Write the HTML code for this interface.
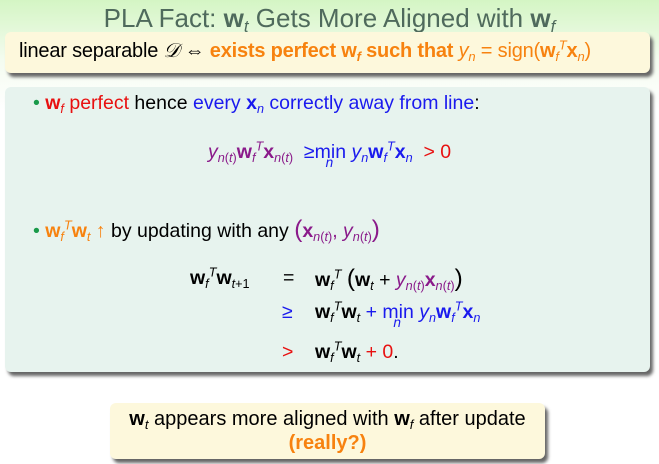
<!DOCTYPE html>
<html><head><meta charset="utf-8"><style>
body{margin:0;width:659px;height:464px;overflow:hidden;background:linear-gradient(#d4f5c4 0px,#f4fcf0 60px,#fff 110px);font-family:"Liberation Sans",sans-serif;position:relative}
.a{position:absolute;white-space:nowrap}
b{font-weight:bold}
i{font-style:italic}
sub,sup{font-size:65%;line-height:0}
sub{vertical-align:-0.3em}
.o{color:#f7820f}.p{color:#8a1a8a}.bl{color:#1a1aee}.r{color:#e81010}
.box{position:absolute;border-radius:6px;box-shadow:3px 4px 3px #666}
.mn{position:relative;display:inline-block}
.mn i.n{position:absolute;left:35%;top:1.05em;font-size:70%}
.big{font-size:125%;font-weight:normal}
</style></head><body>
<div class="a" style="left:0;width:659px;top:3px;text-align:center;font-size:26px;color:#4f6a5c">PLA Fact: <b>w</b><sub><i>t</i></sub> Gets More Aligned with <b>w</b><sub><i>f</i></sub></div>
<div class="box" style="left:5px;top:32px;width:645px;height:41px;background:#fdf8dc"></div>
<div class="a" style="left:19px;top:40px;font-size:20px;letter-spacing:-0.2px">linear separable <i>𝒟</i> ⇔ <b class="o">exists perfect w<sub><i>f</i></sub> such that</b> <span class="o"><i>y<sub>n</sub></i> = sign(<b>w</b><sub><i>f</i></sub><sup><i>T</i></sup><b>x</b><sub><i>n</i></sub>)</span></div>
<div class="box" style="left:5px;top:87px;width:645px;height:285px;background:#e7f3ee"></div>
<div class="a" style="left:33px;top:92px;font-size:19.5px"><span style="color:#1a9a4a">•</span> <span class="r"><b>w</b><sub><i>f</i></sub> perfect</span> hence <span class="bl">every <b>x</b><sub><i>n</i></sub> correctly away from line</span>:</div>
<div class="a p" style="left:208px;top:141px;font-size:19.5px"><i>y</i><sub><i>n</i>(<i>t</i>)</sub><b>w</b><sub><i>f</i></sub><sup><i>T</i></sup><b>x</b><sub><i>n</i>(<i>t</i>)</sub> &nbsp;<span class="bl">≥<span class="mn">min<i class="n">n</i></span> <i>y<sub>n</sub></i><b>w</b><sub><i>f</i></sub><sup><i>T</i></sup><b>x</b><sub><i>n</i></sub></span> &nbsp;<span class="r">&gt; 0</span></div>
<div class="a" style="left:33px;top:216px;font-size:19.5px"><span style="color:#1a9a4a">•</span> <span class="o"><b>w</b><sub><i>f</i></sub><sup><i>T</i></sup><b>w</b><sub><i>t</i></sub> ↑</span> by updating with any <span class="p"><span class="big">(</span><b>x</b><sub><i>n</i>(<i>t</i>)</sub>, <i>y</i><sub><i>n</i>(<i>t</i>)</sub><span class="big">)</span></span></div>
<div class="a" style="left:190px;top:267px;font-size:19.5px"><b>w</b><sub><i>f</i></sub><sup><i>T</i></sup><b>w</b><sub><i>t</i>+1</sub></div>
<div class="a" style="left:283px;top:267px;font-size:19.5px">=</div>
<div class="a" style="left:315px;top:265px;font-size:19.5px"><b>w</b><sub><i>f</i></sub><sup><i>T</i></sup> <span class="big">(</span><b>w</b><sub><i>t</i></sub> + <span class="p"><i>y</i><sub><i>n</i>(<i>t</i>)</sub><b>x</b><sub><i>n</i>(<i>t</i>)</sub></span><span class="big">)</span></div>
<div class="a bl" style="left:282px;top:301px;font-size:19.5px">≥</div>
<div class="a" style="left:315px;top:301px;font-size:19.5px"><b>w</b><sub><i>f</i></sub><sup><i>T</i></sup><b>w</b><sub><i>t</i></sub> <span class="bl">+ <span class="mn">min<i class="n">n</i></span> <i>y<sub>n</sub></i><b>w</b><sub><i>f</i></sub><sup><i>T</i></sup><b>x</b><sub><i>n</i></sub></span></div>
<div class="a r" style="left:282px;top:341px;font-size:19.5px">&gt;</div>
<div class="a" style="left:315px;top:341px;font-size:19.5px"><b>w</b><sub><i>f</i></sub><sup><i>T</i></sup><b>w</b><sub><i>t</i></sub> <span class="r">+ 0</span>.</div>
<div class="box" style="left:110px;top:403px;width:435px;height:56px;background:#fdf8dc"></div>
<div class="a" style="left:110px;width:435px;top:407px;text-align:center;font-size:20px;line-height:24px"><b>w</b><sub><i>t</i></sub> appears more aligned with <b>w</b><sub><i>f</i></sub> after update<br><b class="o">(really?)</b></div>
</body></html>
